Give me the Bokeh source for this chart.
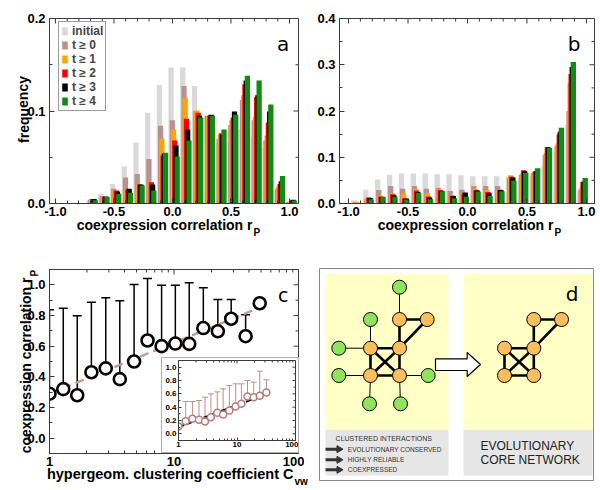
import math
from bokeh.plotting import figure
from bokeh.models import (ColumnDataSource, FixedTicker, PrintfTickFormatter, BasicTickFormatter,
                          Label, Legend, LegendItem, Whisker, TeeHead, Range1d, GridBox)
from bokeh.layouts import column
from bokeh.embed import file_html
from bokeh.resources import INLINE

FONT = "Liberation Sans"
FRAME = "#3a3a3a"

# ---------------- data: panels a and b ----------------
bins = [-1.0, -0.9, -0.8, -0.7, -0.6, -0.5, -0.4, -0.3, -0.2, -0.1, 0.0,
        0.1, 0.2, 0.3, 0.4, 0.5, 0.6, 0.7, 0.8, 0.9, 1.0]
series_names = ["initial", "t \u2265 0", "t \u2265 1", "t \u2265 2", "t \u2265 3", "t \u2265 4"]
series_colors = ["#d9d9d9", "#bc8f8f", "#ffa500", "#ff0000", "#000000", "#138a13"]

a_initial = [0, 0, 0.001, 0.003, 0.0105, 0.021, 0.040, 0.066, 0.098, 0.128, 0.147,
             0.147, 0.127, 0.095, 0.066, 0.068, 0.080, 0.071, 0.060, 0.014, 0.001]
a_t0 = [0, 0, 0, 0.004, 0.008, 0.016, 0.028, 0.032, 0.048, 0.084, 0.090,
        0.127, 0.100, 0.095, 0.070, 0.085, 0.112, 0.090, 0.068, 0.016, 0.002]
a_t1 = [0, 0, 0, 0.005, 0.007, 0.014, 0.015, 0.0205, 0.023, 0.070, 0.080,
        0.114, 0.1005, 0.095, 0.075, 0.090, 0.117, 0.094, 0.0735, 0.0185, 0.002]
a_t2 = [0, 0, 0, 0.005, 0.007, 0.014, 0.015, 0.0205, 0.023, 0.052, 0.068,
        0.0915, 0.098, 0.095, 0.076, 0.093, 0.129, 0.115, 0.0875, 0.021, 0.003]
a_t3 = [0, 0, 0, 0.005, 0.0076, 0.013, 0.016, 0.0205, 0.0205, 0.054, 0.0627,
        0.080, 0.095, 0.096, 0.074, 0.0995, 0.133, 0.117, 0.0995, 0.024, 0.004]
a_t4 = [0, 0, 0, 0.0036, 0.007, 0.0105, 0.0116, 0.0195, 0.014, 0.0548, 0.0508,
        0.068, 0.093, 0.095, 0.080, 0.096, 0.138, 0.133, 0.107, 0.0296, 0.0032]

b_initial = [0.002, 0.007, 0.030, 0.052, 0.062, 0.065, 0.065, 0.065, 0.063, 0.063, 0.061,
             0.059, 0.059, 0.059, 0.058, 0.055, 0.060, 0.080, 0.110, 0.170, 0.030]
b_t0 = [0, 0.002, 0.010, 0.029, 0.038, 0.032, 0.038, 0.032, 0.034, 0.027, 0.030,
        0.038, 0.038, 0.038, 0.055, 0.062, 0.066, 0.105, 0.125, 0.200, 0.030]
b_t1 = [0, 0.004, 0.013, 0.016, 0.022, 0.022, 0.031, 0.022, 0.030, 0.018, 0.020,
        0.032, 0.029, 0.030, 0.061, 0.065, 0.068, 0.110, 0.130, 0.260, 0.035]
b_t2 = [0, 0.001, 0.013, 0.015, 0.020, 0.011, 0.028, 0.015, 0.029, 0.017, 0.020,
        0.029, 0.025, 0.030, 0.058, 0.072, 0.070, 0.122, 0.150, 0.280, 0.047]
b_t3 = [0, 0, 0.012, 0.014, 0.018, 0.011, 0.025, 0.013, 0.027, 0.016, 0.024,
        0.028, 0.022, 0.029, 0.056, 0.070, 0.070, 0.121, 0.155, 0.295, 0.047]
b_t4 = [0, 0, 0.0094, 0.0144, 0.0144, 0.0086, 0.023, 0.0094, 0.0267, 0.0115, 0.0144,
        0.026, 0.016, 0.0267, 0.050, 0.066, 0.076, 0.120, 0.164, 0.306, 0.055]

# ---------------- data: panel c ----------------
c_x = [1.0, 1.29, 1.67, 2.17, 2.83, 3.67, 4.78, 6.13, 7.95, 10.25, 13.25, 17.2, 22.5, 28.8, 37.6, 48.8]
c_y = [0.29, 0.32, 0.28, 0.43, 0.455, 0.385, 0.50, 0.637, 0.60, 0.617, 0.615, 0.718, 0.697, 0.779, 0.665, 0.88]
c_top = [0.837, 0.847, 0.798, 0.886, 0.916, 0.897, 1.002, 1.041, 0.998, 0.998, 1.013, 0.981, 0.905, 0.905, 0.805, 0.88]
c_fit_x = [1.0, 45.0]
c_fit_y = [0.29, 0.84]

ins_x = [1.0, 1.33, 1.73, 2.24, 2.84, 3.58, 4.6, 5.8, 7.4, 9.5, 11.9, 15.1, 19.3, 24.5, 31.8]
ins_y = [0.11, 0.19, 0.225, 0.21, 0.185, 0.25, 0.315, 0.29, 0.35, 0.41, 0.45, 0.56, 0.55, 0.57, 0.62]
ins_top = [0.11, 0.485, 0.485, 0.50, 0.55, 0.60, 0.63, 0.675, 0.725, 0.75, 0.75, 0.80, 0.775, 0.94, 0.81]
ins_fit_x = [1.0, 28.0]
ins_fit_y = [0.10, 0.58]

# ---------------- data: panel d (diagram) ----------------
node_x = [80, 51, 19.3, 19.3, 50, 81, 108.7,            # green (left)
          80, 107.7, 51, 80, 51, 80,                    # orange (left)
          214.3, 242, 185, 214.3, 185, 214.3]           # orange (right)
node_y = [193.3, 161, 132.3, 105, 76.7, 76.7, 105,
          161, 161, 132.3, 132.3, 105, 105,
          161, 161, 132.3, 132.3, 105, 105]
node_kind = ["g"] * 7 + ["o"] * 12
edge_from = [0, 1, 2, 3, 4, 5, 6, 7, 7, 8, 9, 9, 10, 11, 9, 10,
             13, 13, 14, 15, 15, 16, 17, 15, 16]
edge_to = [7, 9, 9, 11, 11, 12, 12, 8, 10, 10, 10, 11, 12, 12, 12, 11,
           14, 16, 16, 16, 17, 18, 18, 18, 17]
edge_kind = ["thin"] * 7 + ["thick"] * 18
box_left = [6, 144, 6, 144]
box_right = [129, 273, 129, 273]
box_bottom = [50.7, 50.7, 5, 5]
box_top = [206.7, 206.7, 50.7, 50.7]
box_color = ["#ffffc6", "#ffffc6", "#e6e6e6", "#e6e6e6"]
arrow_x = [116, 147.7, 147.7, 161, 147.7, 147.7, 116]
arrow_y = [110, 110, 104, 116, 128, 121.7, 121.7]
legend_rows = ["EVOLUTIONARY CONSERVED", "HIGHLY RELIABLE", "COEXPRESSED"]
legend_row_y = [31.3, 20.7, 10.7]


def frame_axes(p, xticks, xminor, yticks, yminor, xfmt, yfmt, W, H, log_x=False,
               tick_font="13px", major=5, minor=3, xstand=3, ystand=4):
    p.xgrid.visible = False
    p.ygrid.visible = False
    p.outline_line_color = FRAME
    p.outline_line_width = 1
    bottom = p.below[0]
    left = p.left[0]
    bottom.ticker = FixedTicker(ticks=xticks, minor_ticks=xminor)
    left.ticker = FixedTicker(ticks=yticks, minor_ticks=yminor)
    bottom.formatter = xfmt
    left.formatter = yfmt
    for ax in (bottom, left):
        ax.major_tick_in = major
        ax.major_tick_out = 0
        ax.minor_tick_in = minor
        ax.minor_tick_out = 0
        ax.axis_line_color = FRAME
        ax.major_tick_line_color = FRAME
        ax.minor_tick_line_color = FRAME
        ax.major_label_text_font = FONT
        ax.major_label_text_font_style = "bold"
        ax.major_label_text_font_size = tick_font
        ax.major_label_text_color = "black"
    bottom.major_label_standoff = xstand
    left.major_label_standoff = ystand
    # mirrored inward ticks on the top and right edges of the frame
    x0, x1 = p.x_range.start, p.x_range.end
    y0, y1 = p.y_range.start, p.y_range.end

    def xin(L):
        if log_x:
            return x1 / 10 ** (L * math.log10(x1 / x0) / W)
        return x1 - L * (x1 - x0) / W

    sx0, sy0, sx1, sy1 = [], [], [], []
    for ticks, L in ((xticks, major), (xminor, minor)):
        for t in ticks:
            sx0.append(t); sy0.append(y1); sx1.append(t); sy1.append(y1 - L * (y1 - y0) / H)
    for ticks, L in ((yticks, major), (yminor, minor)):
        for t in ticks:
            sx0.append(x1); sy0.append(t); sx1.append(xin(L)); sy1.append(t)
    p.segment(sx0, sy0, sx1, sy1, line_color=FRAME, line_width=1)


def draw_bars(p, series, offsets, width):
    rends = []
    for vals, col, off in zip(series, series_colors, offsets):
        src = ColumnDataSource(dict(x=[b + off for b in bins], top=vals))
        rends.append(p.vbar(x="x", top="top", bottom=0, width=width, source=src,
                            fill_color=col, line_color=None))
    return rends


def lab(p, text, x, y, size, xo=0, yo=0, align="center", baseline="middle",
        angle=0, bold=True, font=FONT, color="black"):
    p.add_layout(Label(x=x, y=y, x_offset=xo, y_offset=yo, text=text, text_font=font,
                       text_font_size=size, text_font_style="bold" if bold else "normal",
                       text_align=align, text_baseline=baseline, angle=angle,
                       text_color=color))


x_major = [-1.0, -0.5, 0.0, 0.5, 1.0]
x_minor = [v for v in bins if v not in x_major]
fmt1 = PrintfTickFormatter(format="%.1f")

# ---------------- panel a ----------------
pa = figure(width=304, height=240, x_range=Range1d(-1.051, 1.077), y_range=Range1d(0, 0.2),
            toolbar_location=None, output_backend="svg",
            min_border_left=49, min_border_right=6, min_border_top=18, min_border_bottom=37)
ra = draw_bars(pa, [a_initial, a_t0, a_t1, a_t2, a_t3, a_t4],
               [-0.012 + 0.0105 * i for i in range(6)], 0.045)
frame_axes(pa, x_major, x_minor, [0.0, 0.1, 0.2], [0.05, 0.15], fmt1, fmt1, 249, 185)
leg = Legend(items=[LegendItem(label=n, renderers=[r]) for n, r in zip(series_names, ra)],
             location=(9, 92), padding=2, spacing=0, label_height=12,
             glyph_height=10, glyph_width=7, label_standoff=4,
             label_text_font=FONT, label_text_font_style="bold", label_text_font_size="12px",
             border_line_color=FRAME, border_line_width=1, background_fill_color="white",
             background_fill_alpha=1.0)
pa.add_layout(leg)
lab(pa, "a", 0.946, 0.1727, "20px", bold=False, font="DejaVu Sans")

# ---------------- panel b ----------------
pb = figure(width=294, height=240, x_range=Range1d(-1.076, 1.068), y_range=Range1d(0, 0.4),
            toolbar_location=None, output_backend="svg",
            min_border_left=35, min_border_right=4, min_border_top=18, min_border_bottom=37)
draw_bars(pb, [b_initial, b_t0, b_t1, b_t2, b_t3, b_t4],
          [-0.055 + 0.009 * i for i in range(6)], 0.045)
frame_axes(pb, x_major, x_minor, [0.0, 0.1, 0.2, 0.3, 0.4], [0.05, 0.15, 0.25, 0.35],
           fmt1, fmt1, 255, 185)
lab(pb, "b", 0.896, 0.345, "20px", bold=False, font="DejaVu Sans")

# ---------------- panel c ----------------
log_minor = [2, 3, 4, 5, 6, 7, 8, 9, 20, 30, 40, 50, 60, 70, 80, 90]
y_major_c = [0.0, 0.2, 0.4, 0.6, 0.8, 1.0]
y_minor_c = [-0.1, 0.1, 0.3, 0.5, 0.7, 0.9]
pc = figure(width=304, height=248, x_axis_type="log", x_range=Range1d(1, 100),
            y_range=Range1d(-0.1, 1.1), toolbar_location=None, output_backend="svg",
            min_border_left=49, min_border_right=6, min_border_top=29, min_border_bottom=35)
pc.line(c_fit_x, c_fit_y, line_color="#c49a9a", line_width=2.5, line_dash="9 5")
src_c = ColumnDataSource(dict(x=c_x, y=c_y, top=c_top))
pc.add_layout(Whisker(source=src_c, base="x", lower="y", upper="top", dimension="height",
                      line_color="black", line_width=1.5, lower_head=None,
                      upper_head=TeeHead(size=9, line_color="black", line_width=1.5)))
pc.scatter("x", "y", source=src_c, size=12, marker="circle", fill_color="white",
           line_color="black", line_width=2.6)
frame_axes(pc, [1, 10, 100], log_minor, y_major_c, y_minor_c, BasicTickFormatter(), fmt1,
           249, 184, log_x=True)
lab(pc, "c", 75.3, 0.933, "19px", bold=False, font="DejaVu Sans")

# ---------------- inset ----------------
pin = figure(width=136, height=94, x_axis_type="log", x_range=Range1d(1, 100),
             y_range=Range1d(-0.1, 1.1), toolbar_location=None, output_backend="svg",
             min_border_left=15, min_border_right=3, min_border_top=2, min_border_bottom=12,
             styles={"outline": "1px solid #b0b0b0"})
pin.line(ins_fit_x, ins_fit_y, line_color="black", line_width=2, line_dash="6 3")
src_i = ColumnDataSource(dict(x=ins_x, y=ins_y, top=ins_top))
pin.add_layout(Whisker(source=src_i, base="x", lower="y", upper="top", dimension="height",
                       line_color="#c08c8c", line_width=1, lower_head=None,
                       upper_head=TeeHead(size=6, line_color="#c08c8c", line_width=1)))
pin.scatter("x", "y", source=src_i, size=7, marker="circle", fill_color="white",
            line_color="#b87c7c", line_width=1.5)
frame_axes(pin, [1, 10, 100], log_minor, y_major_c, y_minor_c, BasicTickFormatter(), fmt1,
           118, 80, log_x=True, tick_font="8px", major=3, minor=2, xstand=1, ystand=2)

# ---------------- panel d ----------------
pd_ = figure(width=294, height=248, x_range=Range1d(0, 274), y_range=Range1d(0, 212),
             x_axis_type=None, y_axis_type=None, toolbar_location=None, output_backend="svg",
             min_border_left=15, min_border_right=5, min_border_top=28, min_border_bottom=8)
pd_.outline_line_color = "#888888"
pd_.outline_line_width = 1
pd_.quad(left=box_left, right=box_right, bottom=box_bottom, top=box_top,
         fill_color=box_color, line_color=None)
e_x0 = [node_x[i] for i in edge_from]
e_y0 = [node_y[i] for i in edge_from]
e_x1 = [node_x[i] for i in edge_to]
e_y1 = [node_y[i] for i in edge_to]
e_w = [1.0 if k == "thin" else 2.6 for k in edge_kind]
pd_.segment(x0=e_x0, y0=e_y0, x1=e_x1, y1=e_y1, line_color="black", line_width=e_w)
n_col = ["#8fe35f" if k == "g" else "#f9bf5e" for k in node_kind]
pd_.scatter(node_x, node_y, size=14, marker="circle", fill_color=n_col,
            line_color="black", line_width=1)
pd_.patch(arrow_x, arrow_y, fill_color="white", line_color="black", line_width=1.2)
pd_.segment(x0=[6] * 3, y0=legend_row_y, x1=[18] * 3, y1=legend_row_y,
            line_color="#333333", line_width=3)
pd_.scatter([19.5] * 3, legend_row_y, marker="triangle", size=7, angle=-1.5708,
            fill_color="#333333", line_color="#333333")
lab(pd_, "CLUSTERED INTERACTIONS", 64.3, 41.7, "7px", bold=False, color="#333333")
for t, yy in zip(legend_rows, legend_row_y):
    lab(pd_, t, 28.3, yy, "6.5px", align="left", bold=False, color="#333333")
lab(pd_, "EVOLUTIONARY", 161, 35, "12px", align="left", bold=False, color="#222222")
lab(pd_, "CORE NETWORK", 161, 20.7, "12px", align="left", bold=False, color="#222222")
lab(pd_, "d", 252.7, 186.7, "20px", bold=False, font="DejaVu Sans")

# ---------------- transparent overlay for the axis titles (page pixels, y up) ----------------
ov = figure(width=598, height=488, x_range=Range1d(0, 598), y_range=Range1d(0, 488),
            x_axis_type=None, y_axis_type=None, toolbar_location=None, output_backend="svg",
            min_border=0, background_fill_alpha=0, border_fill_alpha=0)
ov.outline_line_color = None
lab(ov, "frequency", 23, 379, "14px", angle=1.5708)
lab(ov, "coexpression correlation r", 252, 264, "14px", align="right")
lab(ov, "P", 253, 256, "10px", align="left")
lab(ov, "coexpression correlation r", 553, 264, "14px", align="right")
lab(ov, "P", 554, 256, "10px", align="left")
lab(ov, "coexpression correlation r", 25, 211, "14px", angle=1.5708, align="right")
lab(ov, "P", 34, 212, "10px", angle=1.5708, align="left")
lab(ov, "hypergeom. clustering coefficient C", 293, 15, "14.5px", align="right")
lab(ov, "vw", 294, 7.5, "10px", align="left")

page = GridBox(children=[(column(pa), 0, 0), (column(pb), 0, 1), (column(pc), 1, 0),
                         (column(pd_), 1, 1),
                         (column(pin, margin=(118, 0, 0, 162)), 1, 0),
                         (column(ov), 0, 0, 2, 2)])
open("out.html", "w").write(file_html(page, INLINE, title="coexpression"))
